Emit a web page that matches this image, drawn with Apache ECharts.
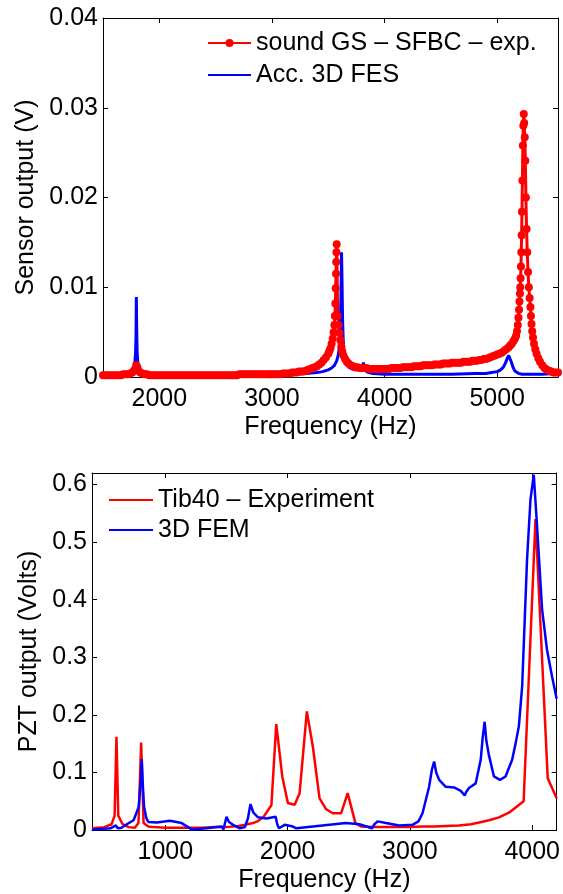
<!DOCTYPE html>
<html><head><meta charset="utf-8">
<script src="https://cdn.jsdelivr.net/npm/echarts@6/dist/echarts.min.js"></script>
<style>html,body{margin:0;padding:0;background:#fff}#c{width:563px;height:894px}</style>
</head><body><div id="c"></div>
<script>
// ---------- Top chart data ----------
const topXTicks = [2000, 3000, 4000, 5000];
const topYTicks = [0, 0.01, 0.02, 0.03, 0.04];
const topRedName = 'sound GS \u2013 SFBC \u2013 exp.';
const topBlueName = 'Acc. 3D FES';
const topRedFreq = [
1500,1520,1540,1560,1580,1600,1620,1640,1660,1680,1700,1720,1740,1760,1775,1785,1795,1805,1815,1830,1850,1870,1890,
1910,1930,1950,1970,1990,2010,2030,2050,2070,2090,2110,2130,2150,2170,2190,2210,2230,2250,2270,2290,
2310,2330,2350,2370,2390,2410,2430,2450,2470,2490,2510,2530,2550,2570,2590,2610,2630,2650,2670,2690,
2710,2730,2750,2770,2790,2810,2830,2850,2870,2890,2910,2930,2950,2970,2990,
3000,3020,3040,3060,3080,3100,3120,3140,3160,3180,3200,3220,3240,3260,3280,3300,3320,3340,3360,3380,3400,3420,3440,3460,3480,3500,
3510,3520,3530,3540,3548,3554,3559,3563,3566,3569,3571,3573,3575,3584,3592,3600,3608,3616,3625,3635,3650,3665,3680,3700,3720,3740,3760,3780,3800,
3820,3840,3860,3880,3900,3920,3940,3960,3980,4000,
4020,4040,4060,4080,4100,4120,4140,4160,4180,4200,4220,4240,4260,4280,4300,4320,4340,4360,4380,4400,
4420,4440,4460,4480,4500,4520,4540,4560,4580,4600,4620,4640,4660,4680,4700,4720,4740,4760,4780,4800,
4820,4840,4860,4880,4900,4920,4940,4960,4980,5000,5020,5040,5060,5080,
5100,5115,5130,5145,5158,5168,5176,5183,5189,5194,5198,5202,5205,5208,5211,5214,5217,5220,5224,5228,5232,5236,
5240,5245,5250,5255,5261,5267,5274,5281,5288,5295,5300,5305,5311,5318,5327,5338,5350,5365,5380,5400,5420,5440,5460,5480,5500,5520,5540
];
const topRedVal = [
.0002,.0002,.0002,.0002,.0002,.0002,.0002,.0002,.0002,.0003,.0003,.0003,.0004,.0005,.0007,.0009,.0013,.0011,.0007,.0005,.0004,.0003,.0003,
.0002,.0002,.0002,.0002,.0002,.0002,.0002,.0002,.0002,.0002,.0002,.0002,.0002,.0002,.0002,.0002,.0002,.0002,.0002,.0002,
.0002,.0002,.0002,.0002,.0002,.0002,.0002,.0002,.0002,.0002,.0002,.0002,.0002,.0002,.0002,.0002,.0002,.0002,.0002,.0002,
.0003,.0003,.0003,.0003,.0003,.0003,.0003,.0003,.0003,.0003,.0003,.0003,.0003,.0003,.0003,
.0003,.0003,.0003,.0003,.0003,.0004,.0004,.0004,.0004,.0005,.0005,.0005,.0006,.0006,.0006,.0007,.0008,.0009,.0010,.0011,.0012,.0014,.0016,.0019,.0022,.0026,
.0029,.0032,.0037,.0043,.0050,.0058,.0068,.0082,.0099,.0115,.0128,.0139,.0148,.0068,.0058,.0049,.0041,.0034,.0028,.0024,.0020,.0017,.0015,.0013,.0012,.0011,.0011,.0010,.0010,
.0010,.0010,.0009,.0009,.0009,.0009,.0009,.0009,.0009,.0009,
.0009,.0009,.0010,.0010,.0010,.0010,.0010,.0011,.0011,.0011,.0011,.0011,.0012,.0012,.0012,.0012,.0013,.0013,.0013,.0013,
.0013,.0014,.0014,.0014,.0014,.0015,.0015,.0015,.0015,.0016,.0016,.0016,.0016,.0016,.0017,.0017,.0017,.0017,.0018,.0018,
.0018,.0019,.0019,.0020,.0020,.0021,.0022,.0023,.0024,.0025,.0026,.0027,.0029,.0031,
.0033,.0035,.0037,.0040,.0043,.0046,.0051,.0058,.0066,.0075,.0084,.0093,.0100,.0110,.0123,.0139,.0158,.0184,.0219,.0258,.0280,.0293,
.0283,.0267,.0241,.0200,.0165,.0139,.0117,.0100,.0088,.0078,.0068,.0059,.0051,.0044,.0037,.0031,.0026,.0021,.0017,.0013,.0010,.0008,.0007,.0006,.0005,.0005,.0005
];
const topBlueFreq = [
1500,1550,1600,1650,1700,1730,1750,1765,1775,1783,1789,1793,1796,1799,1803,1809,1817,1827,1840,1860,
1900,1950,2000,2200,2400,2600,2800,3000,3200,3300,3400,3450,3500,3530,3555,3575,3590,3600,3607,3613,
3618,3622,3627,3633,3640,3650,3665,3685,3710,3740,3770,3795,3805,3812,3818,3823,3830,3840,3860,3900,
4000,4200,4400,4600,4800,4900,4950,5000,5030,5055,5075,5090,5102,5112,5125,5140,5155,5170,5190,5220,
5300,5400,5500,5540
];
const topBlueVal = [
.0002,.0002,.0003,.0003,.0004,.0005,.0006,.0008,.0011,.0016,.0026,.0045,.0089,.0055,.0028,.0016,.0010,.0007,.0005,.0004,
.0004,.0003,.0003,.0003,.0003,.0003,.0003,.0003,.0003,.0004,.0005,.0006,.0008,.0010,.0013,.0018,.0025,.0035,.0055,.0090,
.0139,.0110,.0065,.0040,.0028,.0020,.0014,.0011,.0009,.0008,.0008,.0009,.0012,.0016,.0018,.0014,.0009,.0006,.0005,.0004,
.0003,.0003,.0003,.0003,.0004,.0004,.0005,.0006,.0008,.0011,.0016,.0021,.0024,.0022,.0017,.0011,.0007,.0005,.0004,.0003,
.0003,.0003,.0004,.0007
];

// ---------- Bottom chart data ----------
const botXTicks = [1000, 2000, 3000, 4000];
const botYTicks = [0, 0.1, 0.2, 0.3, 0.4, 0.5, 0.6];
const botRedName = 'Tib40 \u2013 Experiment';
const botBlueName = '3D FEM';
const botRedFreq = [400,500,560,585,600,615,650,700,750,780,802,822,860,900,1000,1100,1200,1300,1400,1500,
1550,1600,1650,1717,1760,1800,1867,1907,1956,2002,2057,2098,2157,2206,2261,2315,2369,2437,2491,2554,
2600,2700,2800,2900,3000,3100,3200,3293,3400,3500,3565,3647,3728,3810,3930,4027,4127,4200];
const botRedVal = [.003,.005,.01,.025,.162,.025,.01,.005,.004,.012,.152,.012,.006,.005,.004,.004,.004,.004,.005,.005,
.006,.007,.009,.012,.016,.022,.043,.184,.093,.047,.044,.064,.206,.145,.055,.036,.029,.029,.064,.012,
.006,.005,.005,.005,.005,.006,.006,.007,.008,.01,.013,.017,.022,.03,.05,.54,.09,.055];
const botBlueFreq = [400,500,550,595,610,641,685,740,782,800,807,815,826,845,861,930,1038,1133,1215,1337,
1460,1475,1500,1520,1554,1609,1650,1675,1696,1720,1758,1826,1902,1915,1929,1976,2043,2071,2206,2478,
2587,2690,2710,2736,2804,2913,3021,3070,3103,3157,3180,3198,3215,3239,3293,3361,3416,3448,3460,3483,
3538,3579,3595,3611,3625,3646,3687,3736,3782,3836,3864,3891,3918,3958,3986,4013,4040,4081,4121,4162,4200];
const botBlueVal = [.001,.002,.003,.008,.003,.004,.01,.017,.04,.09,.123,.08,.04,.02,.014,.013,.016,.012,.001,.003,
.006,.001,.023,.014,.009,.003,.005,.02,.045,.03,.022,.02,.023,.01,.003,.009,.006,.003,.006,.012,
.01,.003,.01,.015,.012,.008,.009,.015,.029,.075,.105,.119,.1,.087,.075,.074,.068,.06,.066,.073,
.081,.122,.16,.188,.155,.13,.093,.087,.093,.122,.15,.18,.25,.47,.574,.617,.527,.383,.313,.267,.228];

const pairs = (f, v) => f.map((x, i) => [x, v[i]]);
const FONT = 'Liberation Sans, Arial, Helvetica, sans-serif';
const FS = 25;

function axisBase(gridIndex, min, max, ticks, pos, showLabel, name, nameGap, margin) {
  return {
    type: 'value', gridIndex, min, max, position: pos,
    name: name || '', nameLocation: 'middle', nameGap: nameGap || 0,
    nameTextStyle: { color: '#000', fontSize: FS, fontFamily: FONT },
    axisLine: { show: true, onZero: false, lineStyle: { color: '#000', width: 1 } },
    axisTick: { show: true, inside: true, length: 5, customValues: ticks, lineStyle: { color: '#000', width: 1 } },
    axisLabel: { show: showLabel, customValues: ticks, color: '#000', fontSize: FS, fontFamily: FONT, margin: margin || 5,
      formatter: v => String(+v.toFixed(4)) },
    splitLine: { show: false }
  };
}
const hideSym = { color: 'rgba(0,0,0,0)', opacity: 0, borderWidth: 0 };

const chart = echarts.init(document.getElementById('c'), null, { renderer: 'canvas' });
chart.setOption({
  animation: false,
  backgroundColor: '#fff',
  textStyle: { fontFamily: FONT },
  grid: [
    { left: 103, top: 18, width: 455, height: 359, containLabel: false },
    { left: 92, top: 473, width: 466, height: 357, containLabel: false }
  ],
  xAxis: [
    axisBase(0, 1500, 5540, topXTicks, 'bottom', true, 'Frequency (Hz)', 38, 10),
    axisBase(0, 1500, 5540, topXTicks, 'top', false),
    axisBase(1, 400, 4200, botXTicks, 'bottom', true, 'Frequency (Hz)', 38, 10),
    axisBase(1, 400, 4200, botXTicks, 'top', false)
  ],
  yAxis: [
    axisBase(0, 0, 0.04, topYTicks, 'left', true, 'Sensor output (V)', 59),
    axisBase(0, 0, 0.04, topYTicks, 'right', false),
    axisBase(1, 0, 0.62, botYTicks, 'left', true, 'PZT output (Volts)', 46),
    axisBase(1, 0, 0.62, botYTicks, 'right', false)
  ],
  legend: [
    { data: [{ name: topRedName }, { name: topBlueName, itemStyle: hideSym }], orient: 'vertical', left: 207, top: 28,
      itemWidth: 43, itemHeight: 10, itemGap: 2,
      textStyle: { color: '#000', fontSize: FS, fontFamily: FONT, lineHeight: 30 }, padding: 0, selectedMode: false },
    { data: [{ name: botRedName, itemStyle: hideSym }, { name: botBlueName, itemStyle: hideSym }], orient: 'vertical', left: 108, top: 485,
      itemWidth: 44, itemHeight: 10, itemGap: 0,
      textStyle: { color: '#000', fontSize: FS, fontFamily: FONT, lineHeight: 30 }, padding: 0, selectedMode: false }
  ],
  series: [
    { name: topRedName, type: 'line', xAxisIndex: 0, yAxisIndex: 0, data: pairs(topRedFreq, topRedVal),
      symbol: 'circle', symbolSize: 8, showSymbol: true, showAllSymbol: true,
      itemStyle: { color: '#ff0000' }, lineStyle: { color: '#ff0000', width: 3 } },
    { name: topBlueName, type: 'line', xAxisIndex: 0, yAxisIndex: 0, data: pairs(topBlueFreq, topBlueVal),
      symbol: 'none', itemStyle: { color: '#0000ff' }, lineStyle: { color: '#0000ff', width: 3 } },
    { name: botRedName, type: 'line', xAxisIndex: 2, yAxisIndex: 2, data: pairs(botRedFreq, botRedVal),
      symbol: 'none', itemStyle: { color: '#ff0000' }, lineStyle: { color: '#ff0000', width: 2.5 } },
    { name: botBlueName, type: 'line', xAxisIndex: 2, yAxisIndex: 2, data: pairs(botBlueFreq, botBlueVal),
      symbol: 'none', itemStyle: { color: '#0000ff' }, lineStyle: { color: '#0000ff', width: 2.5 } }
  ]
});
</script></body></html>
